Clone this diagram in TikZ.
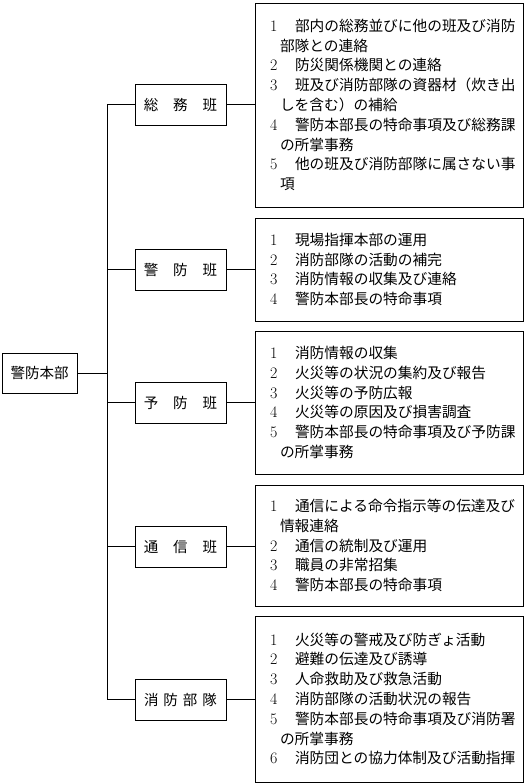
\documentclass[tikz,border=0pt]{standalone}
\usepackage{fontspec}
\newfontfamily\jp{Noto Sans CJK JP}
\newcommand\itm[2]{\hspace*{15pt}\makebox[25pt][l]{\rmfamily\fontsize{16}{19.8}\selectfont #1}#2}
\newcommand\cont[1]{\hspace*{25pt}#1}
\begin{document}
\begin{tikzpicture}[x=1pt,y=-1pt,
  box/.style={draw,line width=0.9pt,inner sep=0pt,font=\jp\fontsize{14.5}{17}\selectfont},
  unit/.style={box,minimum width=91pt,minimum height=41pt},
  duty/.style={box,minimum width=268pt,text width=268pt,align=left,font=\jp\fontsize{14.7}{19.8}\selectfont},
  link/.style={line width=0.9pt}]
\useasboundingbox (0,0) rectangle (526,783);

% root
\node[box,minimum width=75pt,minimum height=40pt] (root) at (39.5,373) {警防本部};

% units
\node[unit] (u1) at (180.5,104.5) {総\hspace{15pt}務\hspace{15pt}班};
\node[unit] (u2) at (180.5,269.5) {警\hspace{15pt}防\hspace{15pt}班};
\node[unit] (u3) at (180.5,402.5) {予\hspace{15pt}防\hspace{15pt}班};
\node[unit] (u4) at (180.5,546.5) {通\hspace{15pt}信\hspace{15pt}班};
\node[unit] (u5) at (180.5,699.5) {消\hspace{5pt}防\hspace{5pt}部\hspace{5pt}隊};

% duties
\node[duty,minimum height=204pt] (d1) at (389,105) {%
\itm{1}{部内の総務並びに他の班及び消防}\\
\cont{部隊との連絡}\\
\itm{2}{防災関係機関との連絡}\\
\itm{3}{班及び消防部隊の資器材（炊き出}\\
\cont{しを含む）の補給}\\
\itm{4}{警防本部長の特命事項及び総務課}\\
\cont{の所掌事務}\\
\itm{5}{他の班及び消防部隊に属さない事}\\
\cont{項}};

\node[duty,minimum height=103pt] (d2) at (389,269.5) {%
\itm{1}{現場指揮本部の運用}\\
\itm{2}{消防部隊の活動の補完}\\
\itm{3}{消防情報の収集及び連絡}\\
\itm{4}{警防本部長の特命事項}};

\node[duty,minimum height=143pt] (d3) at (389,402.5) {%
\itm{1}{消防情報の収集}\\
\itm{2}{火災等の状況の集約及び報告}\\
\itm{3}{火災等の予防広報}\\
\itm{4}{火災等の原因及び損害調査}\\
\itm{5}{警防本部長の特命事項及び予防課}\\
\cont{の所掌事務}};

\node[duty,minimum height=121pt] (d4) at (389,545.5) {%
\itm{1}{通信による命令指示等の伝達及び}\\
\cont{情報連絡}\\
\itm{2}{通信の統制及び運用}\\
\itm{3}{職員の非常招集}\\
\itm{4}{警防本部長の特命事項}};

\node[duty,minimum height=166pt] (d5) at (389,699) {%
\itm{1}{火災等の警戒及び防ぎょ活動}\\
\itm{2}{避難の伝達及び誘導}\\
\itm{3}{人命救助及び救急活動}\\
\itm{4}{消防部隊の活動状況の報告}\\
\itm{5}{警防本部長の特命事項及び消防署}\\
\cont{の所掌事務}\\
\itm{6}{消防団との協力体制及び活動指揮}};

% junctions on the trunk
\coordinate (j1) at (107,104.5);
\coordinate (j5) at (107,699.5);

\draw[link] (j1) -- (j5);
\draw[link] (root.east) -- (root.east -| j1);
\foreach \i in {1,...,5}{
  \draw[link] (u\i.west -| j1) -- (u\i.west);
  \draw[link] (u\i.east) -- (u\i.east -| d\i.west);
}
\end{tikzpicture}
\end{document}
